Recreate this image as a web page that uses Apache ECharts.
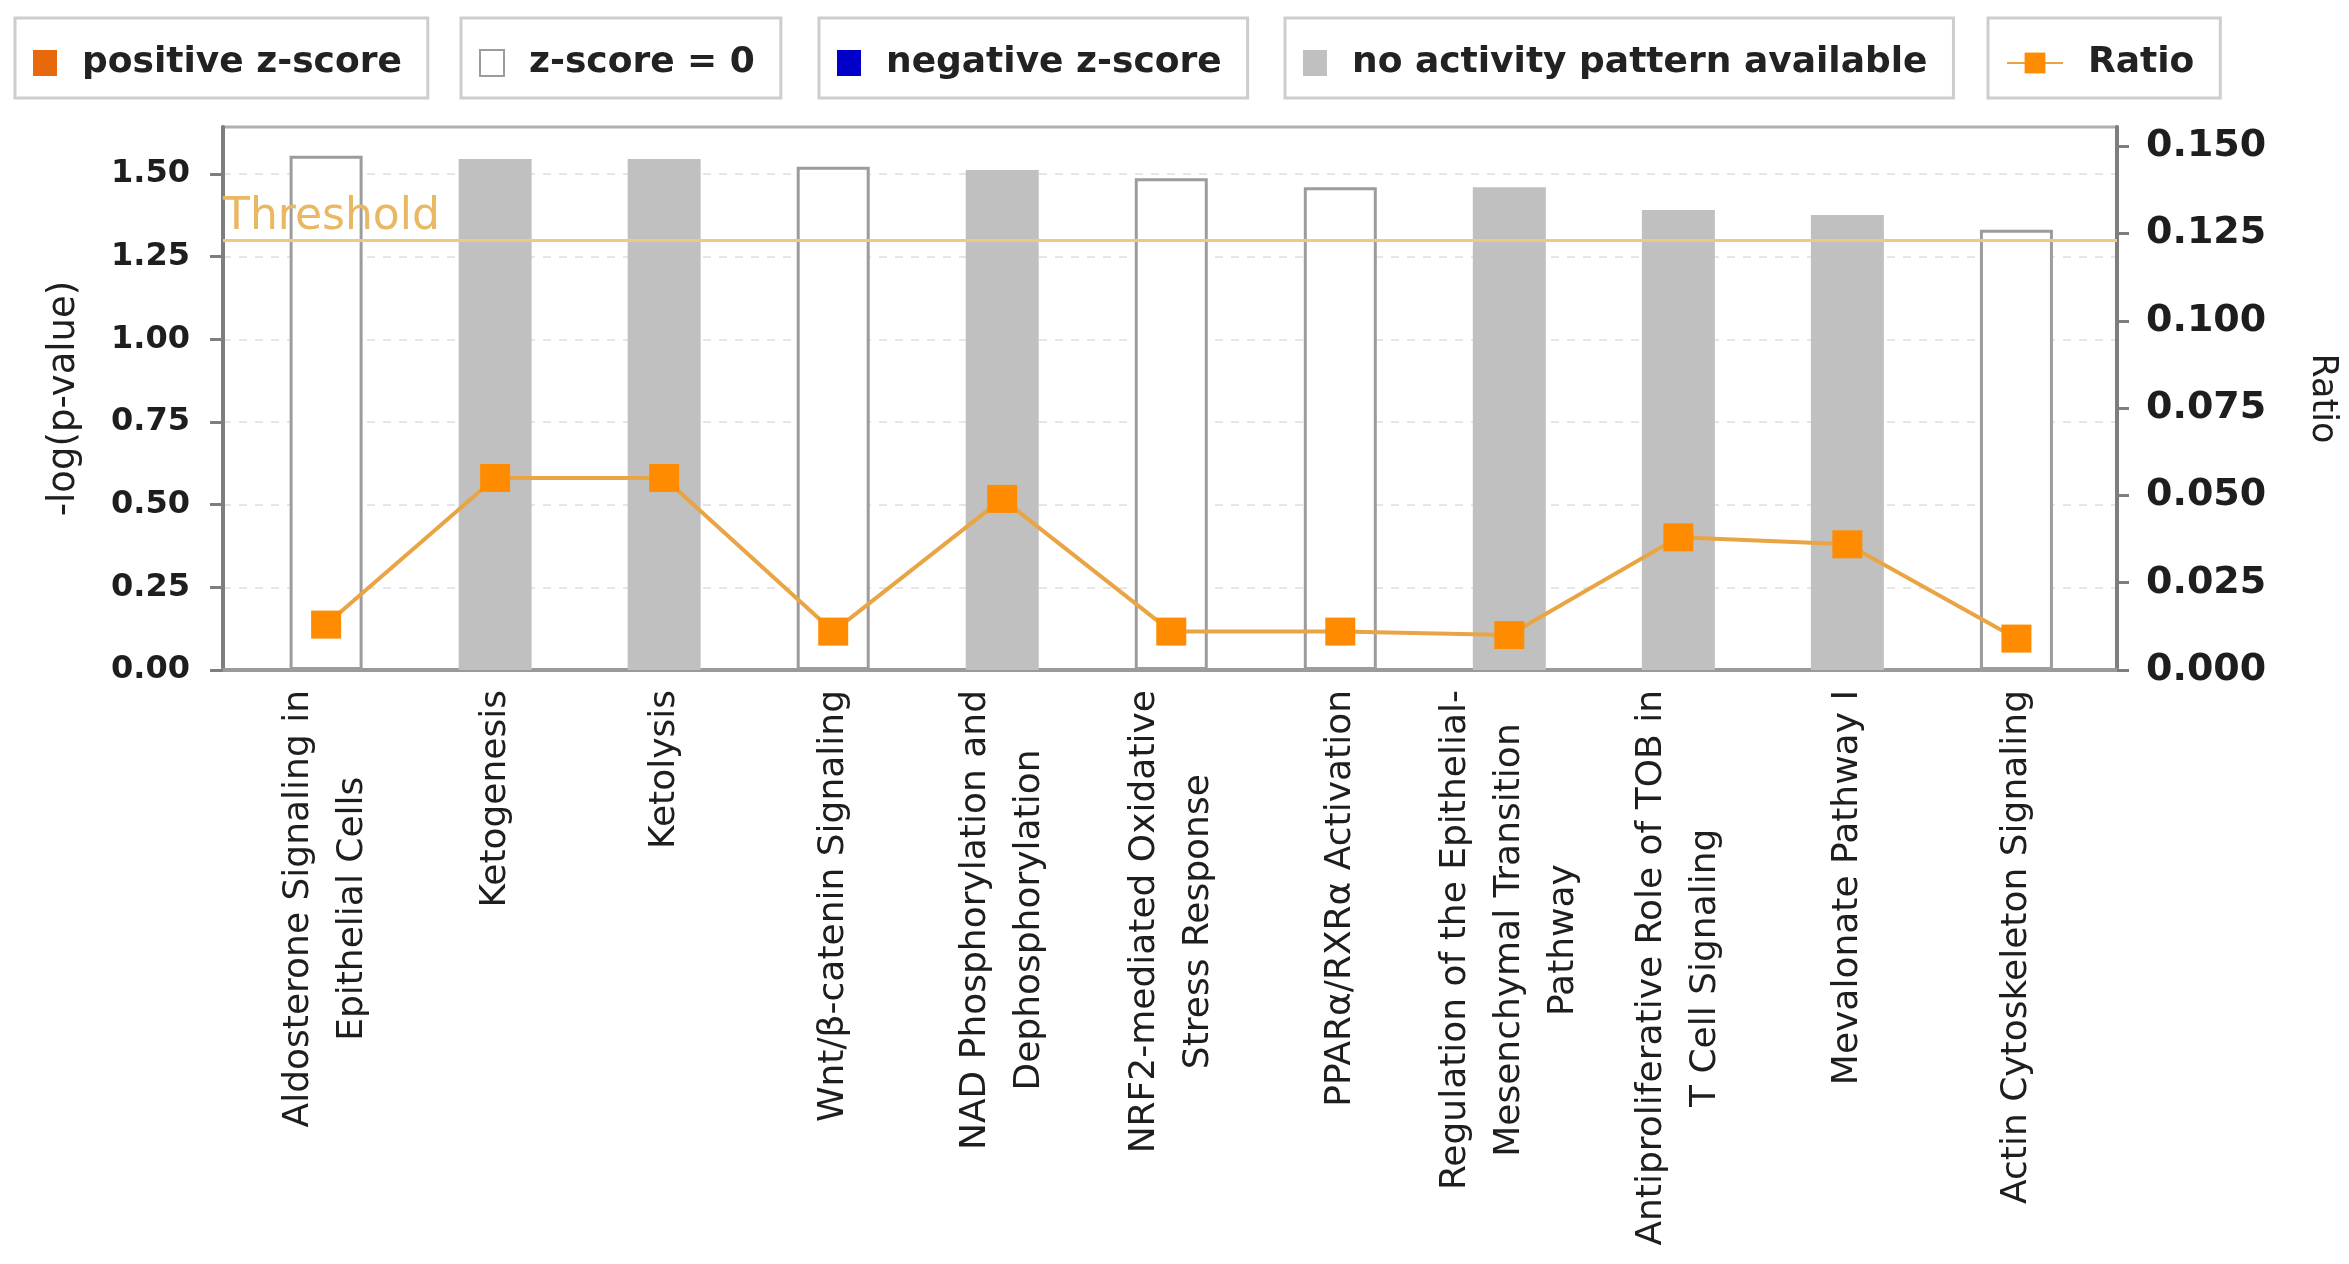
<!DOCTYPE html>
<html>
<head>
<meta charset="utf-8">
<title>Canonical pathways</title>
<script src="https://cdn.jsdelivr.net/npm/echarts@6/dist/echarts.min.js"></script>
<style>
  html, body { margin: 0; padding: 0; background: #ffffff; }
  #chart { width: 2349px; height: 1264px; }
</style>
</head>
<body>
<div id="chart"></div>
<script>
// Canonical pathways: -log(p-value) bars with the ratio line on a second axis
const categories = [
  'Aldosterone Signaling in\nEpithelial Cells',
  'Ketogenesis',
  'Ketolysis',
  'Wnt/β-catenin Signaling',
  'NAD Phosphorylation and\nDephosphorylation',
  'NRF2-mediated Oxidative\nStress Response',
  'PPARα/RXRα Activation',
  'Regulation of the Epithelial-\nMesenchymal Transition\nPathway',
  'Antiproliferative Role of TOB in\nT Cell Signaling',
  'Mevalonate Pathway I',
  'Actin Cytoskeleton Signaling'
];
const negLogP = [1.555, 1.545, 1.545, 1.522, 1.512, 1.487, 1.46, 1.46, 1.391, 1.376, 1.331];
const ratio = [0.013, 0.055, 0.055, 0.011, 0.049, 0.011, 0.011, 0.010, 0.038, 0.036, 0.009];
// 'zero' = z-score = 0, 'none' = no activity pattern available
const activity = ['zero', 'none', 'none', 'zero', 'none', 'zero', 'zero', 'none', 'none', 'none', 'zero'];
const pTicks = [0, 0.25, 0.5, 0.75, 1.0, 1.25, 1.5];
const ratioTicks = [0, 0.025, 0.05, 0.075, 0.1, 0.125, 0.15];
const pAxisMax = 1.642;
const ratioAxisMax = 0.1555;
const threshold = 1.3;
const legendNames = ['positive z-score', 'z-score = 0', 'negative z-score', 'no activity pattern available', 'Ratio'];

const FONT = 'DejaVu Sans';
const categoryIndex = categories.map((_, i) => i);

function barsFor(kind) {
  return negLogP.map((v, i) => [i, v]).filter((_, i) => activity[i] === kind);
}

function legendBox(name, left, extra) {
  return Object.assign({
    data: [name],
    left: left,
    top: 18,
    padding: [27, 26, 17, 18],
    backgroundColor: '#ffffff',
    borderColor: '#cdcdcd',
    borderWidth: 3,
    itemWidth: 24,
    itemHeight: 26,
    icon: 'rect',
    selectedMode: false,
    textStyle: { fontFamily: FONT, fontSize: 36, fontWeight: 'bold', color: '#222222', padding: [0, 0, 0, 20] }
  }, extra || {});
}

const chart = echarts.init(document.getElementById('chart'), null, { renderer: 'canvas' });

chart.setOption({
  animation: false,
  backgroundColor: '#ffffff',
  legend: [
    legendBox(legendNames[0], 15),
    legendBox(legendNames[1], 461),
    legendBox(legendNames[2], 819),
    legendBox(legendNames[3], 1285),
    legendBox(legendNames[4], 1988, { icon: null, itemWidth: 56 })
  ],
  grid: {
    left: 223, right: 232, top: 127, bottom: 594,
    show: true, borderColor: '#b0b0b0', borderWidth: 3, backgroundColor: '#ffffff'
  },
  xAxis: {
    type: 'value',
    min: -0.61,
    max: 10.595,
    splitLine: { show: false },
    axisLine: { show: true, onZero: false, lineStyle: { color: '#9a9a9a', width: 4 } },
    axisTick: { show: false },
    axisLabel: {
      customValues: categoryIndex,
      rotate: 90,
      margin: 20,
      formatter: (v) => categories[Math.round(v)].split('\n').map(l => '{c|' + l + '}').join('\n'),
      rich: {
        c: { align: 'center', fontFamily: FONT, fontSize: 36, lineHeight: 54, color: '#1e1e1e' }
      }
    }
  },
  yAxis: [
    {
      type: 'value',
      min: 0,
      max: pAxisMax,
      position: 'left',
      name: '-log(p-value)',
      nameLocation: 'middle',
      nameGap: 140,
      nameTextStyle: { fontFamily: FONT, fontSize: 37, color: '#1e1e1e' },
      axisLine: { show: true, onZero: false, lineStyle: { color: '#7e7e7e', width: 4 } },
      axisTick: { show: true, customValues: pTicks, length: 13, lineStyle: { color: '#7e7e7e', width: 3 } },
      axisLabel: {
        customValues: pTicks,
        margin: 33,
        formatter: (v) => v.toFixed(2),
        fontFamily: FONT, fontSize: 32, fontWeight: 'bold', color: '#1e1e1e'
      },
      splitLine: { show: true, lineStyle: { color: '#e6e6e6', width: 2, type: [8, 8] } }
    },
    {
      type: 'value',
      min: 0,
      max: ratioAxisMax,
      position: 'right',
      name: 'Ratio',
      nameLocation: 'middle',
      nameRotate: -90,
      nameGap: 188,
      nameTextStyle: { fontFamily: FONT, fontSize: 35, color: '#1e1e1e' },
      axisLine: { show: true, onZero: false, lineStyle: { color: '#7e7e7e', width: 4 } },
      axisTick: { show: true, customValues: ratioTicks, length: 12, lineStyle: { color: '#7e7e7e', width: 3 } },
      axisLabel: {
        customValues: ratioTicks,
        margin: 29,
        formatter: (v) => v.toFixed(3),
        fontFamily: FONT, fontSize: 38, fontWeight: 'bold', color: '#1e1e1e'
      },
      splitLine: { show: false }
    }
  ],
  series: [
    {
      name: legendNames[0], type: 'bar', data: [], barWidth: 73, barGap: '-100%',
      itemStyle: { color: '#e8690c' }
    },
    {
      name: legendNames[1], type: 'bar', data: barsFor('zero'), barWidth: 73, barGap: '-100%',
      itemStyle: { color: '#ffffff', borderColor: '#9c9c9c', borderWidth: 3 },
      markLine: {
        silent: true,
        symbol: ['none', 'none'],
        lineStyle: { color: '#e9cc82', width: 3, type: 'solid' },
        label: {
          show: true, position: 'insideStartTop', formatter: 'Threshold', distance: [0, 1],
          fontFamily: FONT, fontSize: 44, color: '#e8b862'
        },
        data: [{ yAxis: threshold }]
      }
    },
    {
      name: legendNames[2], type: 'bar', data: [], barWidth: 73, barGap: '-100%',
      itemStyle: { color: '#0000c8' }
    },
    {
      name: legendNames[3], type: 'bar', data: barsFor('none'), barWidth: 73, barGap: '-100%',
      itemStyle: { color: '#c0c0c0' }
    },
    {
      name: legendNames[4], type: 'line', yAxisIndex: 1,
      data: ratio.map((r, i) => [i, r]),
      symbol: 'rect', symbolSize: [30, 28],
      itemStyle: { color: '#ff8c00' },
      lineStyle: { color: '#e9a544', width: 4 },
      z: 5
    }
  ]
});
</script>
</body>
</html>
